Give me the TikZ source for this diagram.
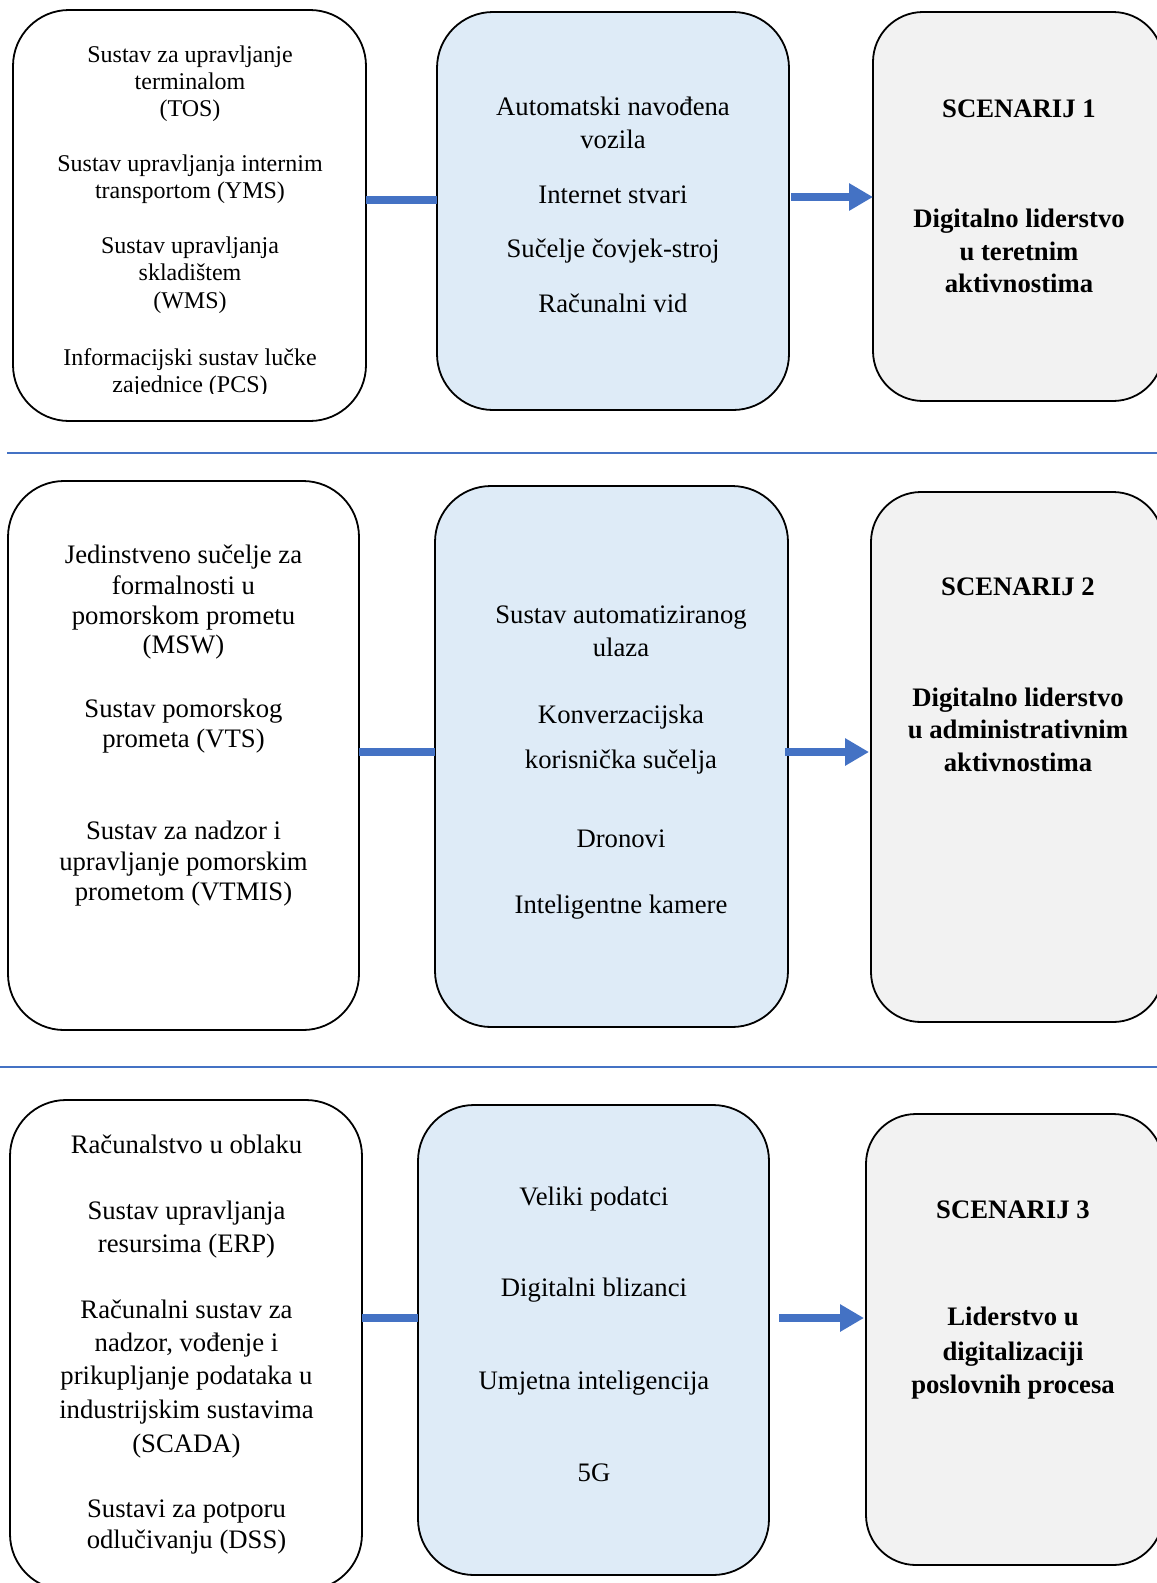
\documentclass[tikz,border=0pt]{standalone}
\usepackage{fontspec}
\setmainfont{Liberation Serif}
\usetikzlibrary{arrows.meta}
\definecolor{conn}{HTML}{4472C4}
\definecolor{paleblue}{HTML}{DEEBF7}
\definecolor{palegrey}{HTML}{F2F2F2}
\begin{document}
\begin{tikzpicture}[x=1pt,y=-1pt,
  box/.style={draw=black, line width=1.8pt, rounded corners=56pt, inner sep=0pt, outer sep=0pt},
  srcbox/.style={box, fill=white},
  techbox/.style={box, fill=paleblue},
  scenbox/.style={box, fill=palegrey, rounded corners=50pt},
  small/.style={font=\fontsize{24}{28}\selectfont, anchor=base, inner sep=0pt},
  txt/.style={font=\fontsize{26.7}{31}\selectfont, anchor=base, inner sep=0pt},
  btxt/.style={txt, font=\fontsize{26.7}{31}\selectfont\bfseries},
  link/.style={draw=conn, line width=8pt},
  arr/.style={link, -{Triangle[length=24pt,width=26pt]}},
  sep/.style={draw=conn, line width=1.5pt}]
\useasboundingbox (0,0) rectangle (1157,1583);

% ---------- boxes ----------
\node[srcbox,  minimum width=353pt, minimum height=411pt] (L1) at (189.5,215.5) {};
\node[techbox, minimum width=352pt, minimum height=398pt] (M1) at (613,211) {};
\node[scenbox, minimum width=290pt, minimum height=389pt] (R1) at (1018,206.5) {};

\node[srcbox,  minimum width=351pt, minimum height=549pt] (L2) at (183.5,755.5) {};
\node[techbox, minimum width=353pt, minimum height=541pt] (M2) at (611.5,756.5) {};
\node[scenbox, minimum width=292pt, minimum height=530pt] (R2) at (1017,757) {};

\node[srcbox,  minimum width=352pt, minimum height=490pt] (L3) at (186,1345) {};
\node[techbox, minimum width=351pt, minimum height=470pt] (M3) at (593.5,1340) {};
\node[scenbox, minimum width=297pt, minimum height=451pt] (R3) at (1014.5,1339.5) {};

% ---------- separators ----------
\coordinate (s1a) at (7,453);   \coordinate (s1b) at (1157,453);
\coordinate (s2a) at (0,1067);  \coordinate (s2b) at (1157,1067);
\draw[sep] (s1a) -- (s1b);
\draw[sep] (s2a) -- (s2b);

% ---------- connectors ----------
\coordinate (y1a) at (0,200);
\coordinate (y1b) at (0,197);
\coordinate (y2) at (0,752);
\coordinate (y3) at (0,1318);
\draw[link] (L1.east |- y1a) -- (M1.west |- y1a);
\draw[arr, shorten <=2pt] (M1.east |- y1b) -- (R1.west |- y1b);
\draw[link] (L2.east |- y2) -- (M2.west |- y2);
\draw[arr, shorten <=-3pt, shorten >=2pt] (M2.east |- y2) -- (R2.west |- y2);
\draw[link] (L3.east |- y3) -- (M3.west |- y3);
\draw[arr, shorten <=10pt, shorten >=2pt] (M3.east |- y3) -- (R3.west |- y3);

% ---------- row 1 ----------
\node[small] (a1) at (190,62) {Sustav za upravljanje};
\node[small] (a2) at (190,89) {terminalom};
\node[small] (a3) at (190,116) {(TOS)};
\node[small] (a4) at (190,171) {Sustav upravljanja internim};
\node[small] (a5) at (190,198) {transportom (YMS)};
\node[small] (a6) at (190,253) {Sustav upravljanja};
\node[small] (a7) at (190,280) {skladištem};
\node[small] (a8) at (190,308) {(WMS)};
\node[small] (a9) at (190,365) {Informacijski sustav lučke};
% the last line sits in a text frame that cuts off its descenders
\begin{scope}
  \clip (20,370) rectangle (360,393.5);
  \node[small] (a10) at (190,392) {zajednice (PCS)};
\end{scope}

\node[txt] (b1) at (613,115) {Automatski navođena};
\node[txt] (b2) at (613,148) {vozila};
\node[txt] (b3) at (613,203) {Internet stvari};
\node[txt] (b4) at (613,257) {Sučelje čovjek-stroj};
\node[txt] (b5) at (613,312) {Računalni vid};

\node[btxt] (c1) at (1019,117) {SCENARIJ 1};
\node[btxt] (c2) at (1019,227) {Digitalno liderstvo};
\node[btxt] (c3) at (1019,260) {u teretnim};
\node[btxt] (c4) at (1019,292) {aktivnostima};

% ---------- row 2 ----------
\node[txt] (d1) at (183.5,563) {Jedinstveno sučelje za};
\node[txt] (d2) at (183.5,594) {formalnosti u};
\node[txt] (d3) at (183.5,624) {pomorskom prometu};
\node[txt] (d4) at (183.5,653) {(MSW)};
\node[txt] (d5) at (183.5,717) {Sustav pomorskog};
\node[txt] (d6) at (183.5,747) {prometa (VTS)};
\node[txt] (d7) at (183.5,839) {Sustav za nadzor i};
\node[txt] (d8) at (183.5,870) {upravljanje pomorskim};
\node[txt] (d9) at (183.5,900) {prometom (VTMIS)};

\node[txt] (e1) at (621,623) {Sustav automatiziranog};
\node[txt] (e2) at (621,656) {ulaza};
\node[txt] (e3) at (621,723) {Konverzacijska};
\node[txt] (e4) at (621,768) {korisnička sučelja};
\node[txt] (e5) at (621,847) {Dronovi};
\node[txt] (e6) at (621,913) {Inteligentne kamere};

\node[btxt] (f1) at (1018,595) {SCENARIJ 2};
\node[btxt] (f2) at (1018,706) {Digitalno liderstvo};
\node[btxt] (f3) at (1018,738) {u administrativnim};
\node[btxt] (f4) at (1018,771) {aktivnostima};

% ---------- row 3 ----------
\node[txt] (g1) at (186.5,1153) {Računalstvo u oblaku};
\node[txt] (g2) at (186.5,1219) {Sustav upravljanja};
\node[txt] (g3) at (186.5,1252) {resursima (ERP)};
\node[txt] (g4) at (186.5,1318) {Računalni sustav za};
\node[txt] (g5) at (186.5,1351) {nadzor, vođenje i};
\node[txt] (g6) at (186.5,1384) {prikupljanje podataka u};
\node[txt] (g7) at (186.5,1418) {industrijskim sustavima};
\node[txt] (g8) at (186.5,1452) {(SCADA)};
\node[txt] (g9) at (186.5,1517) {Sustavi za potporu};
\node[txt] (g10) at (186.5,1548) {odlučivanju (DSS)};

\node[txt] (h1) at (594,1205) {Veliki podatci};
\node[txt] (h2) at (594,1296) {Digitalni blizanci};
\node[txt] (h3) at (594,1389) {Umjetna inteligencija};
\node[txt] (h4) at (594,1481) {5G};

\node[btxt] (i1) at (1013,1218) {SCENARIJ 3};
\node[btxt] (i2) at (1013,1325) {Liderstvo u};
\node[btxt] (i3) at (1013,1360) {digitalizaciji};
\node[btxt] (i4) at (1013,1393) {poslovnih procesa};
\end{tikzpicture}
\end{document}
